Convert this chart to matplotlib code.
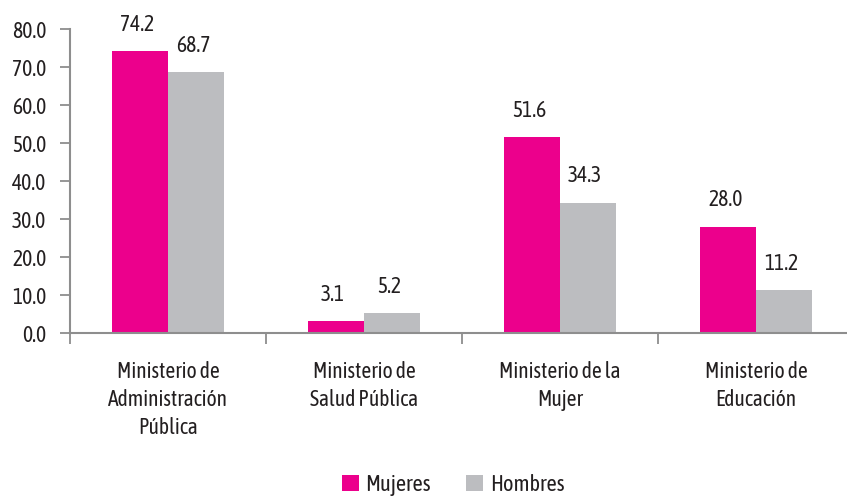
import matplotlib
matplotlib.use("Agg")
import matplotlib.pyplot as plt
import numpy as np

categories = ["Ministerio de\nAdministración\nPública", "Ministerio de\nSalud Pública",
              "Ministerio de la\nMujer", "Ministerio de\nEducación"]
mujeres = [74.2, 3.1, 51.6, 28.0]
hombres = [68.7, 5.2, 34.3, 11.2]
series_names = ["Mujeres", "Hombres"]
yticks = [0, 10, 20, 30, 40, 50, 60, 70, 80]

plt.rcParams['font.family'] = ['Asap Condensed', 'DejaVu Sans']

PINK = "#EC008C"
GRAY = "#BCBDC0"
TXT = "#231F20"
AX = "#8E8E8E"
FS = 15.5

fig = plt.figure(figsize=(8.47, 4.96), dpi=100)
ax = fig.add_axes([70/847, 1-333/496, 784/847, 304/496])

x = np.arange(len(categories))
w = 0.286
b1 = ax.bar(x - w/2, mujeres, w, color=PINK, label=series_names[0])
b2 = ax.bar(x + w/2, hombres, w, color=GRAY, label=series_names[1])

for bars, vals in ((b1, mujeres), (b2, hombres)):
    for r, v in zip(bars, vals):
        ax.annotate(f"{v:.1f}", (r.get_x() + r.get_width()/2, v), xytext=(-2, 19),
                    textcoords="offset points", ha="center", va="center",
                    fontsize=FS, color=TXT)

ax.set_xlim(-0.5, len(categories) - 0.5)
ax.set_ylim(0, 80)
ax.set_yticks(yticks)
ax.set_yticklabels([f"{t:.1f}" for t in yticks])
ax.set_xticks(np.arange(len(categories) + 1) - 0.5)
ax.set_xticklabels([])
ax.set_xticks(x, minor=True)
ax.set_xticklabels(categories, minor=True, fontsize=FS, color=TXT, linespacing=1.35, va="top")
ax.tick_params(axis="x", which="minor", length=0, pad=20)
ax.tick_params(axis="x", which="major", length=8, width=1.3, color=AX, direction="out")
ax.tick_params(axis="y", length=7, width=1.3, color=AX, pad=10, labelsize=FS, labelcolor=TXT)

for s in ["top", "right"]:
    ax.spines[s].set_visible(False)
for s in ["left", "bottom"]:
    ax.spines[s].set_color(AX)
    ax.spines[s].set_linewidth(1.5)

leg = fig.legend(handles=[b1, b2], labels=series_names, loc="lower center",
                 bbox_to_anchor=(0.535, -0.04), ncol=2, frameon=False, fontsize=16,
                 handlelength=0.75, handleheight=0.75, handletextpad=0.3, columnspacing=1.6)
for t in leg.get_texts():
    t.set_color(TXT)

fig.savefig("out.png", dpi=100)
